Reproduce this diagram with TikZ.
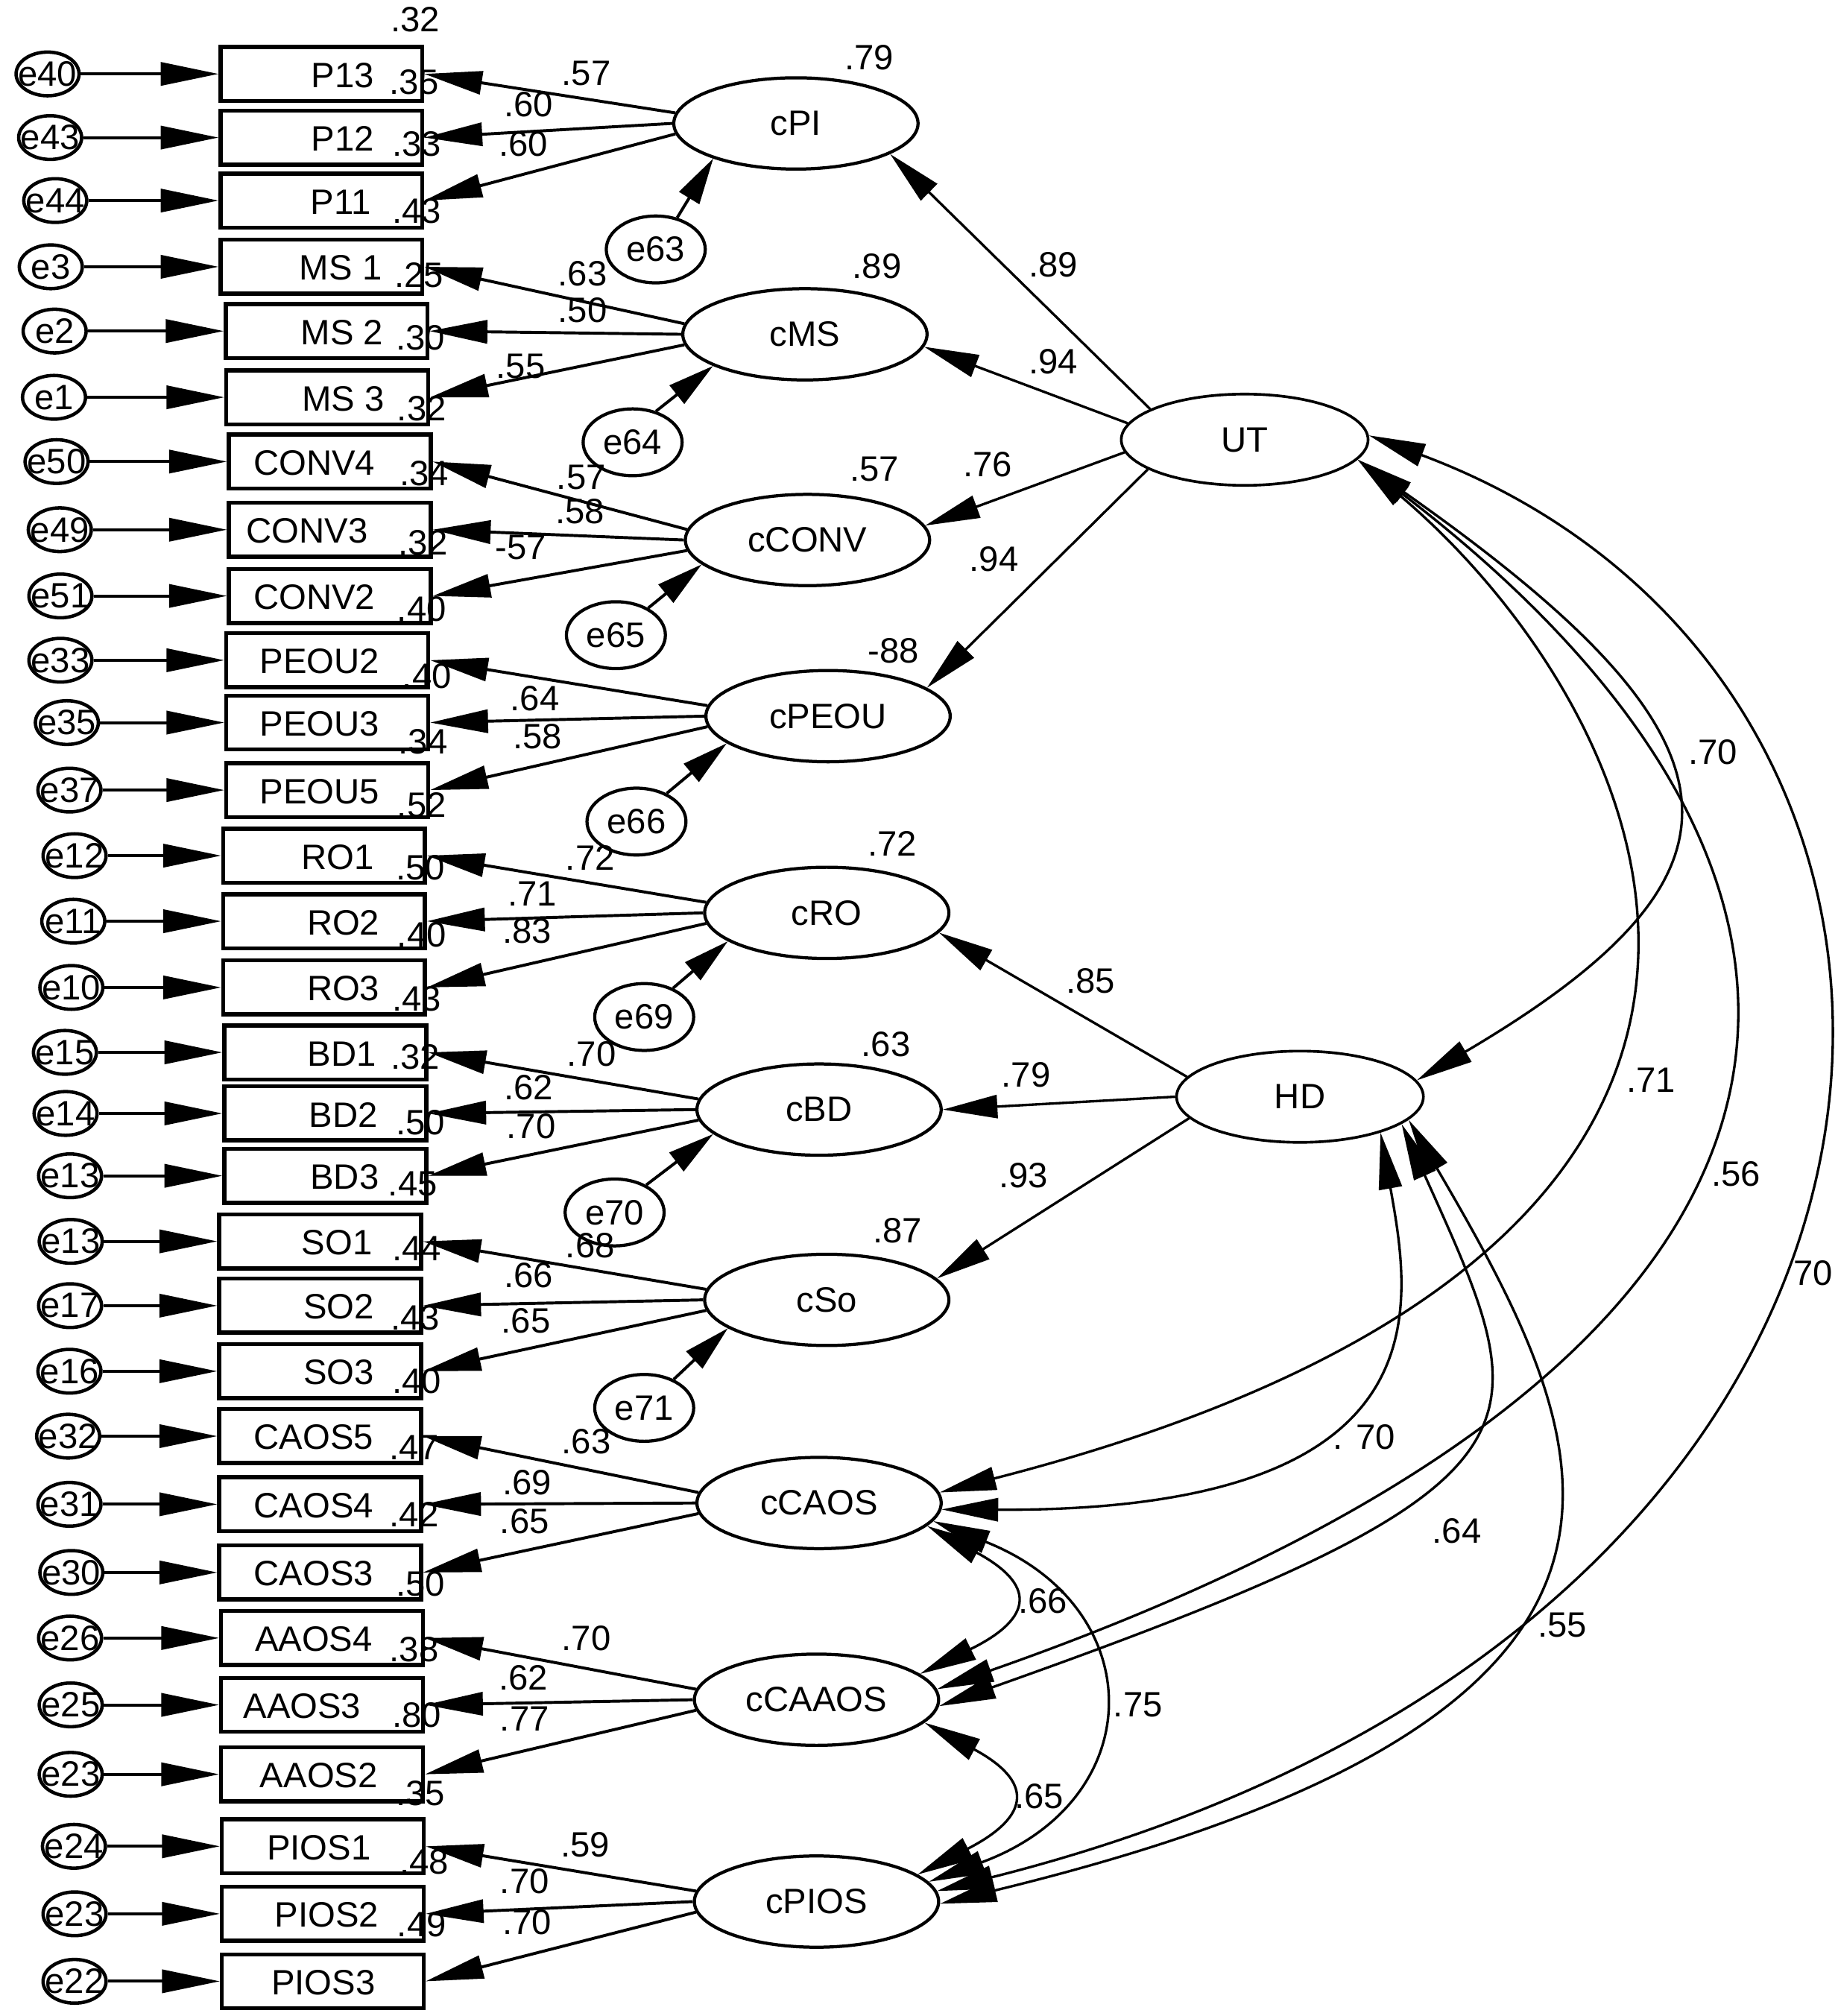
\documentclass[tikz,border=0pt]{standalone}
\usepackage{fontspec}
\setmainfont{Liberation Sans}
\usetikzlibrary{arrows.meta,shapes.geometric}
\tikzset{
 txt/.style={inner sep=0pt},
 obs/.style={draw,line width=1.8pt,minimum width=3.14cm,minimum height=0.84cm,inner sep=0pt},
 errn/.style={draw,ellipse,line width=1.5pt,minimum width=0.98cm,minimum height=0.68cm,inner sep=0pt},
 res/.style={draw,ellipse,line width=1.4pt,minimum width=1.54cm,minimum height=1.04cm,inner sep=0pt},
 lat/.style={draw,ellipse,line width=1.4pt,minimum width=3.8cm,minimum height=1.42cm,inner sep=0pt},
 fac/.style={draw,ellipse,line width=1.2pt,minimum width=3.84cm,minimum height=1.42cm,inner sep=0pt},
 arr/.style={line width=1.3pt,-{Triangle[length=0.9cm,width=0.36cm]}},
 sarr/.style={line width=1.1pt,-{Triangle[length=0.85cm,width=0.36cm]}},
 rarr/.style={line width=1.3pt,-{Triangle[length=0.72cm,width=0.36cm]}},
 cov/.style={line width=1.1pt,{Triangle[length=0.88cm,width=0.36cm]}-{Triangle[length=0.88cm,width=0.36cm]}}
}
\begin{document}
\begin{tikzpicture}[x=0.02cm,y=-0.02cm,font=\fontsize{15.6}{18}\selectfont]
\useasboundingbox (0,0) rectangle (1429,1568);

% observed indicators with their error terms
\foreach \i/\yy/\bx/\tx/\lab/\ex/\el in {
1/57.5/250/266.5/P13/37/e40,
2/107/250/266.5/P12/39/e43,
3/156/250/265/P11/43/e44,
4/207.5/250/265/MS 1/39.5/e3,
5/257.5/254/266/MS 2/42.5/e2,
6/309/254.5/267/MS 3/42/e1,
7/359/256.5/244.5/CONV4/44/e50,
8/412/256.5/239/CONV3/46.5/e49,
9/463.5/256.5/244.5/CONV2/47/e51,
10/513.5/254.5/248.5/PEOU2/47/e33,
11/562/254.5/248.5/PEOU3/52/e35,
12/614.5/254.5/248.5/PEOU5/54/e37,
13/665.5/252/262.5/RO1/58/e12,
14/716.5/252/267/RO2/57/e11,
15/768/252/267/RO3/55.5/e10,
16/818.5/253/266/BD1/50.5/e15,
17/866/253/267/BD2/51/e14,
18/914.5/253/268/BD3/54.5/e13,
19/965.5/249/262/SO1/55/e13,
20/1015.5/249/263.5/SO2/54.5/e17,
21/1066.5/249/263.5/SO3/54/e16,
22/1117/249/244/CAOS5/53/e32,
23/1170/249/244/CAOS4/54/e31,
24/1223/249/244/CAOS3/55.5/e30,
25/1274/250.5/244/AAOS4/54.5/e26,
26/1326/250.5/235/AAOS3/55/e25,
27/1380/250.5/248/AAOS2/55/e23,
28/1436/251/248/PIOS1/57.5/e24,
29/1488.5/251/254/PIOS2/58/e23,
30/1541/251/251.5/PIOS3/58/e22}
{
 \node[obs] (b\i) at (\bx,\yy) {};
 \node[txt] (t\i) at (\tx,\yy+1) {\lab};
 \node[errn,label={[txt]center:\el}] (er\i) at (\ex,\yy) {};
 \draw[arr] (er\i) -- (b\i);
}

% latent variables
\node[lat] (cPI) at (619,96) {cPI};
\node[lat] (cMS) at (626,260) {cMS};
\node[lat] (cCONV) at (628,420) {cCONV};
\node[lat] (cPEOU) at (644,557) {cPEOU};
\node[lat] (cRO) at (643,710) {cRO};
\node[lat] (cBD) at (637,863) {cBD};
\node[lat] (cSo) at (643,1011) {cSo};
\node[lat] (cCAOS) at (637,1169) {cCAOS};
\node[lat] (cCAAOS) at (635,1322) {cCAAOS};
\node[lat] (cPIOS) at (635,1479) {cPIOS};
\node[fac] (UT) at (968,342) {UT};
\node[fac] (HD) at (1011,853) {HD};

% residuals
\node[res] (r63) at (510,194) {e63};
\node[res] (r64) at (492,344) {e64};
\node[res] (r65) at (479,494) {e65};
\node[res] (r66) at (495,639) {e66};
\node[res] (r69) at (501,791) {e69};
\node[res] (r70) at (478,943) {e70};
\node[res] (r71) at (501,1095) {e71};
\draw[rarr] (r63.56) -- (cPI.203);
\draw[rarr] (r64.53) -- (cMS.199);
\draw[rarr] (r65.40) -- (cCONV.193);
\draw[rarr] (r66.43) -- (cPEOU.195);
\draw[rarr] (r69.45) -- (cRO.196);
\draw[rarr] (r70.41) -- (cBD.193);
\draw[rarr] (r71.44) -- (cSo.196);

% loadings
\foreach \L/\a/\b/\c in {cPI/1/2/3,cMS/4/5/6,cCONV/7/8/9,cPEOU/10/11/12,cRO/13/14/15,cBD/16/17/18,cSo/19/20/21,cCAOS/22/23/24,cCAAOS/25/26/27,cPIOS/28/29/30}
{
 \draw[arr] (\L.175) -- (b\a.east);
 \draw[arr] (\L.180) -- (b\b.east);
 \draw[arr] (\L.185) -- (b\c.east);
}

% structural paths
\draw[sarr] (UT.162) -- (cPI.342);
\draw[sarr] (UT.172) -- (cMS.354);
\draw[sarr] (UT.186) -- (cCONV.7);
\draw[sarr] (UT.197) -- (cPEOU.16);
\draw[sarr] (HD.170) -- (cRO.350);
\draw[sarr] (HD.west) -- (cBD.east);
\draw[sarr] (HD.191) -- (cSo.11);

% covariances
\draw[cov] (UT.2) .. controls (1585,533) and (1566,1260) .. (cPIOS.5);
\draw[cov] (UT.-10) .. controls (1500,698) and (1454,1060) .. (cCAAOS.5);
\draw[cov] (UT.-10) .. controls (1284,551) and (1490,966) .. (cCAOS.5);
\draw[cov] (UT.-10) .. controls (1364,574) and (1379,677) .. (HD.8);
\draw[cov] (HD.-24) .. controls (1098,1017) and (1126,1176) .. (cCAOS.-3);
\draw[cov] (HD.-15) .. controls (1198,1114) and (1222,1153) .. (cCAAOS.-3);
\draw[cov] (HD.-12) .. controls (1242,1122) and (1347,1331) .. (cPIOS.-1);
\draw[cov] (cCAOS.-12) .. controls (805,1232) and (805,1258) .. (cCAAOS.14);
\draw[cov] (cCAOS.-9) .. controls (895,1250) and (895,1400) .. (cPIOS.10);
\draw[cov] (cCAAOS.-12) .. controls (803,1385) and (803,1412) .. (cPIOS.15);

% labels
\foreach \px/\py/\lbl in {
323/15/.32, 322/64/.35, 324/112/.33, 324/164/.43, 326/214/.25, 327/263/.30,
328/318/.32, 330/368/.34, 329/422/.32, 328/474/.40, 332/526/.40, 329/577/.34,
328/626/.52, 327/675/.50, 328/727/.40, 324/777/.43, 323/822/.32, 327/873/.50,
321/921/.45, 324/971/.44, 323/1025/.43, 324/1074/.40, 322/1126/.47, 322/1178/.42,
327/1232/.50, 322/1283/.38, 324/1334/.80, 327/1395/.35, 330/1448/.48, 328/1497/.49,
456/57/.57, 411/81/.60, 407/112/.60,
453/213/.63, 453/241/.50, 405/285/.55,
452/371/.57, 451/398/.58, 405/426/-57,
416/543/.64, 418/573/.58,
459/667/.72, 414/695/.71, 410/724/.83,
460/820/.70, 411/846/.62, 413/876/.70,
459/969/.68, 411/992/.66, 409/1027/.65,
456/1121/.63, 410/1153/.69, 408/1183/.65,
456/1274/.70, 407/1305/.62, 408/1337/.77,
455/1435/.59, 408/1463/.70, 410/1495/.70,
676/45/.79, 682/207/.89, 680/365/.57, 695/506/-88, 694/656/.72, 689/812/.63, 698/957/.87,
819/206/.89, 819/281/.94, 768/361/.76, 773/435/.94, 848/763/.85, 798/836/.79, 796/914/.93,
1332/585/.70, 1284/840/.71, 1350/913/.56, 1410/990/70, 1061/1118/. 70, 1133/1191/.64,
1215/1264/.55, 811/1245/.66, 885/1326/.75, 808/1397/.65}
{
 \node[txt] at (\px,\py) {\lbl};
}
\end{tikzpicture}
\end{document}
